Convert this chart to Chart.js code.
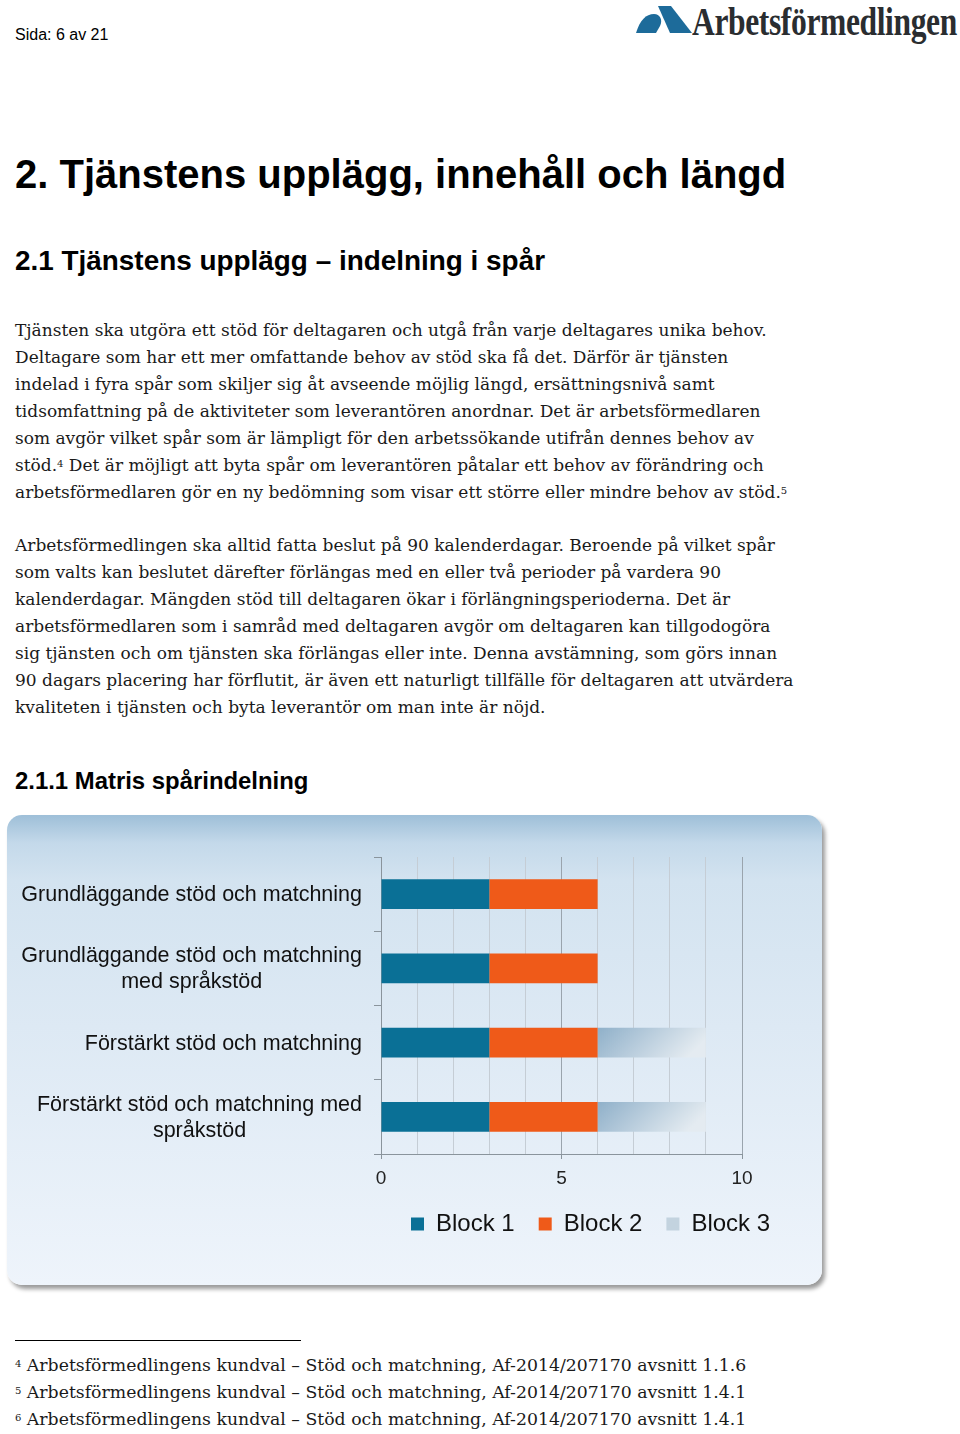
<!DOCTYPE html>
<html lang="sv">
<head>
<meta charset="utf-8">
<title>Tjänstens upplägg – Matris spårindelning</title>
<script src="https://cdn.jsdelivr.net/npm/chart.js@4.4.1/dist/chart.umd.min.js"></script>
<style>
  html, body { margin: 0; padding: 0; background: #fff; }
  body { width: 960px; height: 1434px; position: relative; overflow: hidden;
         font-family: "Liberation Sans", Arial, sans-serif; color: #000; }
  .sida { position: absolute; left: 15px; top: 26px; font-size: 16px; line-height: 18px; }
  .logo { position: absolute; left: 636px; top: 0; width: 330px; height: 50px; }
  .logo svg { position: absolute; left: 0; top: 6px; }
  .logo span { position: absolute; left: 56px; top: -3px; font-family: "Liberation Serif", serif;
               font-weight: bold; font-size: 41px; color: #2a2d30; white-space: nowrap;
               transform: scaleX(0.77); transform-origin: left top; letter-spacing: -0.5px; }
  h1, h2, h3 { position: absolute; left: 15px; margin: 0; white-space: nowrap; font-weight: bold; }
  h1 { top: 152px; font-size: 40px; line-height: 44px; }
  h2 { top: 245px; font-size: 27.9px; line-height: 32px; }
  h3 { top: 767px; font-size: 23.9px; line-height: 28px; }
  .txt { position: absolute; left: 15px; font-family: "DejaVu Serif", serif; font-size: 17px;
         line-height: 27px; white-space: nowrap; color: #1a1a1a; }
  .txt sup, .fn sup { font-size: 10px; vertical-align: 4px; line-height: 0; }
  .p1 { top: 317px; }
  .p2 { top: 532px; }
  .box { position: absolute; left: 7px; top: 815px; width: 815px; height: 470px; border-radius: 15px;
         background: linear-gradient(to bottom, #9ebfd8 0%, #c4d9ea 6%, #d3e3f0 14%, #dde9f4 45%, #eef4fb 100%);
         box-shadow: 3px 4px 4px rgba(0,0,0,0.4); }
  .box canvas { position: absolute; left: 0; top: 0; }
  .fnline { position: absolute; left: 15px; top: 1340px; width: 286px; height: 1px; background: #000; }
  .fn { position: absolute; left: 15px; top: 1352px; font-family: "DejaVu Serif", serif; font-size: 17.3px;
        line-height: 27px; white-space: nowrap; color: #1a1a1a; }
</style>
</head>
<body>
<div class="sida">Sida: 6 av 21</div>
<div class="logo">
  <svg width="56" height="30" viewBox="0 0 56 30">
    <path d="M0 27 C4 14 10 8 18 8 C24 8 27 14 24 20 L20 27 Z" fill="#1d6b9a"/>
    <path d="M22 0 L35 0 L56 27 L34 27 Z" fill="#1d6b9a"/>
  </svg>
  <span>Arbetsförmedlingen</span>
</div>

<h1>2. Tjänstens upplägg, innehåll och längd</h1>
<h2>2.1 Tjänstens upplägg – indelning i spår</h2>

<div class="txt p1">Tjänsten ska utgöra ett stöd för deltagaren och utgå från varje deltagares unika behov.<br>Deltagare som har ett mer omfattande behov av stöd ska få det. Därför är tjänsten<br>indelad i fyra spår som skiljer sig åt avseende möjlig längd, ersättningsnivå samt<br>tidsomfattning på de aktiviteter som leverantören anordnar. Det är arbetsförmedlaren<br>som avgör vilket spår som är lämpligt för den arbetssökande utifrån dennes behov av<br>stöd.<sup>4</sup> Det är möjligt att byta spår om leverantören påtalar ett behov av förändring och<br>arbetsförmedlaren gör en ny bedömning som visar ett större eller mindre behov av stöd.<sup>5</sup></div>

<div class="txt p2">Arbetsförmedlingen ska alltid fatta beslut på 90 kalenderdagar. Beroende på vilket spår<br>som valts kan beslutet därefter förlängas med en eller två perioder på vardera 90<br>kalenderdagar. Mängden stöd till deltagaren ökar i förlängningsperioderna. Det är<br>arbetsförmedlaren som i samråd med deltagaren avgör om deltagaren kan tillgodogöra<br>sig tjänsten och om tjänsten ska förlängas eller inte. Denna avstämning, som görs innan<br>90 dagars placering har förflutit, är även ett naturligt tillfälle för deltagaren att utvärdera<br>kvaliteten i tjänsten och byta leverantör om man inte är nöjd.</div>

<h3>2.1.1 Matris spårindelning</h3>

<div class="box"><canvas id="matrix" width="815" height="470"></canvas></div>

<div class="fnline"></div>
<div class="fn"><sup>4</sup> Arbetsförmedlingens kundval – Stöd och matchning, Af-2014/207170 avsnitt 1.1.6<br><sup>5</sup> Arbetsförmedlingens kundval – Stöd och matchning, Af-2014/207170 avsnitt 1.4.1<br><sup>6</sup> Arbetsförmedlingens kundval – Stöd och matchning, Af-2014/207170 avsnitt 1.4.1</div>

<script>
// spår (categories), one array per line of the label
const categories = [
  ['Grundläggande stöd och matchning'],
  ['Grundläggande stöd och matchning', 'med språkstöd'],
  ['Förstärkt stöd och matchning'],
  ['Förstärkt stöd och matchning med', 'språkstöd']
];
const seriesNames = ['Block 1', 'Block 2', 'Block 3'];
const block1 = [3, 3, 3, 3];
const block2 = [3, 3, 3, 3];
const block3 = [0, 0, 3, 3];
const xLabelled = [0, 5, 10];
const xMax = 10;

const blue = '#0a7096';
const orange = '#ef5a19';
const grey3 = '#c3d3df';

// diagonal fade for the Block 3 bars, built from the scales
function block3Fill(ctx) {
  const chart = ctx.chart;
  const xs = chart.scales.x, ys = chart.scales.y;
  if (!xs || !ys || ctx.dataIndex === undefined || !xs.width) return grey3;
  const i = ctx.dataIndex;
  const start = block1[i] + block2[i];
  const x0 = xs.getPixelForValue(start);
  const x1 = xs.getPixelForValue(start + block3[i]);
  const yc = ys.getPixelForValue(i);
  const g = chart.ctx.createLinearGradient(x0, yc - 15, x0 + (x1 - x0) * 0.55, yc + 45);
  g.addColorStop(0, '#8fb0c9');
  g.addColorStop(1, '#e4ebf1');
  return g;
}

// y labels: block right aligned to the axis, lines centred on each other
const yLabels = {
  id: 'yLabels',
  afterDraw(chart) {
    const sc = chart.scales.y, c = chart.ctx;
    c.save();
    c.font = '21.5px "Liberation Sans", Arial, sans-serif';
    c.fillStyle = '#111';
    c.textAlign = 'center';
    c.textBaseline = 'middle';
    const right = sc.right - 19;
    categories.forEach((lines, i) => {
      const w = Math.max(...lines.map(l => c.measureText(l).width));
      const yc = sc.getPixelForValue(i);
      lines.forEach((l, k) => c.fillText(l, right - w / 2, yc + 1 + (k - (lines.length - 1) / 2) * 26));
    });
    c.restore();
  }
};

// legend sits under the plot, starting near the axis
const legendShift = {
  id: 'legendShift',
  afterLayout(chart) {
    const lg = chart.legend;
    const w = lg.right - lg.left;
    lg.left = chart.chartArea.left + 6;
    lg.right = lg.left + w;
  }
};

new Chart(document.getElementById('matrix'), {
  type: 'bar',
  data: {
    labels: categories,
    datasets: [
      { label: seriesNames[0], data: block1, backgroundColor: blue },
      { label: seriesNames[1], data: block2, backgroundColor: orange },
      { label: seriesNames[2], data: block3, backgroundColor: block3Fill }
    ]
  },
  options: {
    indexAxis: 'y',
    responsive: false,
    animation: false,
    barPercentage: 0.8,
    categoryPercentage: 0.5,
    layout: { padding: { top: 42, right: 80, left: 0, bottom: 39 } },
    plugins: {
      tooltip: { enabled: false },
      legend: {
        position: 'bottom',
        align: 'start',
        labels: {
          boxWidth: 13,
          boxHeight: 13,
          padding: 24,
          color: '#111',
          font: { size: 24, family: '"Liberation Sans", Arial, sans-serif' },
          generateLabels(chart) {
            const items = Chart.defaults.plugins.legend.labels.generateLabels(chart);
            const fills = [blue, orange, grey3];
            items.forEach((it, k) => { it.fillStyle = fills[k]; it.strokeStyle = fills[k]; it.lineWidth = 0; });
            return items;
          }
        }
      }
    },
    scales: {
      x: {
        stacked: true,
        min: 0,
        max: xMax,
        afterFit(scale) { scale.height = 34; },
        ticks: {
          stepSize: 1,
          padding: 8,
          color: '#222',
          font: { size: 19, family: '"Liberation Sans", Arial, sans-serif' },
          callback: v => (xLabelled.includes(v) ? String(v) : '')
        },
        grid: {
          color: c => (c.tick && c.tick.value % 5 === 0 ? '#9aa4ad' : '#c5cdd5'),
          tickColor: c => (c.tick && c.tick.value % 5 === 0 ? '#8a949c' : 'rgba(0,0,0,0)'),
          tickLength: 5
        },
        border: { color: '#8a949c' }
      },
      y: {
        stacked: true,
        afterFit(scale) { scale.width = 374; },
        ticks: { display: false },
        grid: { offset: true, drawOnChartArea: false, drawTicks: true, tickLength: 7, color: '#8a949c' },
        border: { color: '#8a949c' }
      }
    }
  },
  plugins: [yLabels, legendShift]
});
</script>
</body>
</html>
